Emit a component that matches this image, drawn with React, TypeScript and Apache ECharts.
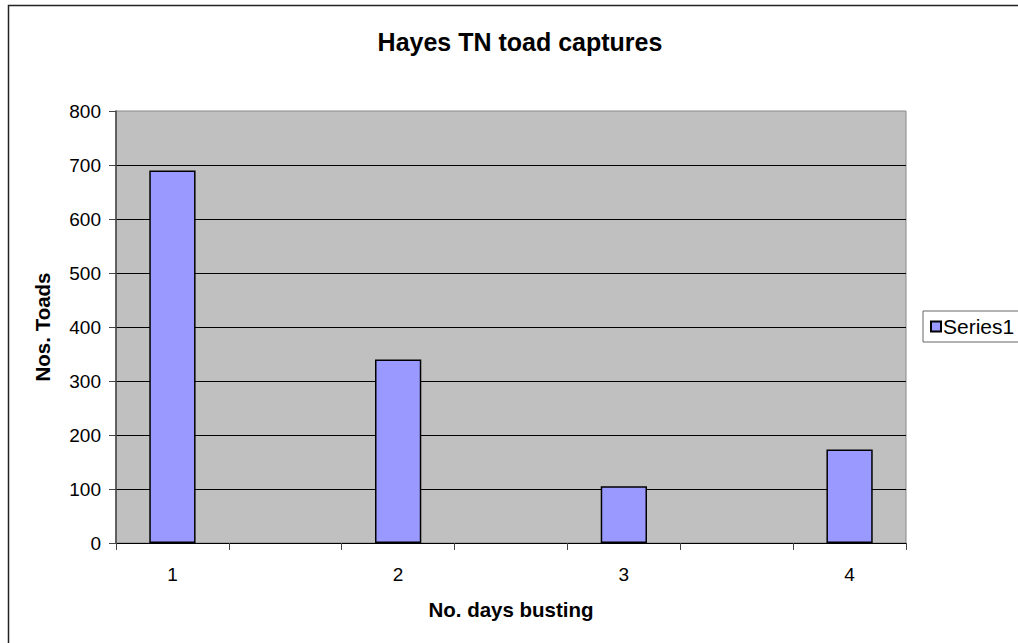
import React, { useEffect, useRef } from "react";
import * as echarts from "echarts";

const categories = ["1", "2", "3", "4"];
const captures = [690, 340, 105, 173];
const seriesName = "Series1";
const chartTitle = "Hayes TN toad captures";
const xAxisName = "No. days busting";
const yAxisName = "Nos. Toads";
const yMin = 0;
const yMax = 800;
const yStep = 100;

const FONT = "'Liberation Sans', Arial, sans-serif";

// The category axis leaves an empty slot between consecutive days.
const axisSlots: string[] = [];
const slotValues: (number | null)[] = [];
categories.forEach((c, i) => {
  if (i > 0) {
    axisSlots.push("");
    slotValues.push(null);
  }
  axisSlots.push(c);
  slotValues.push(captures[i]);
});

export default function App() {
  const ref = useRef<HTMLDivElement>(null);
  useEffect(() => {
    if (!ref.current) return;
    const chart = echarts.init(ref.current, null, { renderer: "svg" });
    chart.setOption({
      animation: false,
      backgroundColor: "#ffffff",
      textStyle: { fontFamily: FONT },
      graphic: [
        {
          type: "polyline",
          shape: { points: [[1018, 5.5], [8.5, 5.5], [8.5, 643]] },
          style: { stroke: "#222", lineWidth: 1.5, fill: null },
          silent: true,
        },
        {
          type: "text",
          x: 520,
          y: 42,
          style: {
            text: chartTitle,
            align: "center",
            verticalAlign: "middle",
            font: `bold 25px ${FONT}`,
            fill: "#000",
          },
        },
      ],
      legend: {
        show: true,
        left: 923,
        top: 311,
        orient: "vertical",
        padding: [5, 30, 5, 7],
        borderColor: "#666",
        borderWidth: 1,
        backgroundColor: "#fff",
        itemWidth: 10,
        itemHeight: 10,
        icon: "rect",
        itemGap: 4,
        textStyle: { fontFamily: FONT, fontSize: 21, color: "#000", padding: [0, 0, 0, -3] },
        data: [seriesName],
      },
      grid: {
        left: 116,
        top: 111,
        right: 112,
        bottom: 100,
        show: true,
        backgroundColor: "#c0c0c0",
        borderColor: "#888",
        borderWidth: 1,
      },
      xAxis: {
        type: "category",
        data: axisSlots,
        boundaryGap: true,
        name: xAxisName,
        nameLocation: "middle",
        nameGap: 56,
        nameTextStyle: { fontFamily: FONT, fontSize: 20.5, fontWeight: "bold", color: "#000" },
        axisLine: { show: true, lineStyle: { color: "#000", width: 1 } },
        axisTick: { show: true, alignWithLabel: false, interval: 0, length: 7, lineStyle: { color: "#444" } },
        axisLabel: { fontFamily: FONT, fontSize: 19, color: "#000", margin: 22, interval: 0 },
        splitLine: { show: false },
      },
      yAxis: {
        type: "value",
        min: yMin,
        max: yMax,
        interval: yStep,
        name: yAxisName,
        nameLocation: "middle",
        nameGap: 63,
        nameTextStyle: { fontFamily: FONT, fontSize: 20.5, fontWeight: "bold", color: "#000" },
        axisLine: { show: true, lineStyle: { color: "#444", width: 1.5 } },
        axisTick: { show: true, length: 7, lineStyle: { color: "#444" } },
        axisLabel: { fontFamily: FONT, fontSize: 19, color: "#000", margin: 15 },
        splitLine: { show: true, showMaxLine: false, showMinLine: false, lineStyle: { color: "#000", width: 1 } },
      },
      series: [
        {
          name: seriesName,
          type: "bar",
          data: slotValues,
          barWidth: "41%",
          itemStyle: { color: "#9999ff", borderColor: "#000", borderWidth: 1.5 },
        },
      ],
    });
    return () => chart.dispose();
  }, []);
  return (
    <div
      ref={ref}
      style={{ position: "absolute", left: 0, top: 0, width: 1018, height: 643 }}
    />
  );
}
